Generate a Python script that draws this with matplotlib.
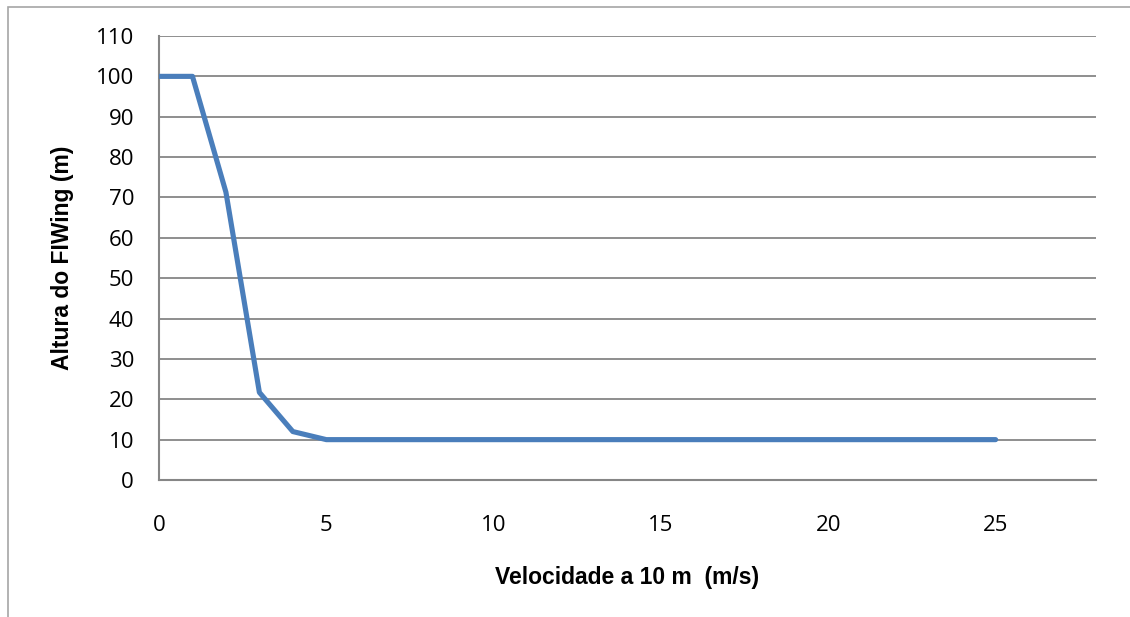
import matplotlib
matplotlib.use('Agg')
import matplotlib.pyplot as plt
from matplotlib.patches import Rectangle

# wind speed at 10 m (m/s) vs FlWing height (m)
velocidade = [0, 1, 2, 3, 4, 5, 6, 7, 8, 9, 10, 11, 12, 13, 14, 15, 16, 17, 18, 19, 20, 21, 22, 23, 24, 25]
altura = [100, 100, 71.3, 21.7, 12, 10, 10, 10, 10, 10, 10, 10, 10, 10, 10, 10, 10, 10, 10, 10, 10, 10, 10, 10, 10, 10]

x_ticks = [0, 5, 10, 15, 20, 25]
y_ticks = [0, 10, 20, 30, 40, 50, 60, 70, 80, 90, 100, 110]

tick_font = ['Open Sans', 'DejaVu Sans']
label_font = ['Liberation Sans Narrow', 'Liberation Sans', 'DejaVu Sans']

fig = plt.figure(figsize=(11.3, 6.17), dpi=100)
ax = fig.add_axes([159/1130, 1-480/617, (1096-159)/1130, (480-36)/617])

# outer chart frame (top and left edges visible)
fig.patches.append(Rectangle((8/1130, -0.1), 1.2, 1-7/617+0.1, transform=fig.transFigure,
                             fill=False, edgecolor='#a6a6a6', linewidth=1.2))

ax.plot(velocidade, altura, color='#4a7ebb', linewidth=3.7, solid_capstyle='round', zorder=3)

ax.set_xlim(0, 28)
ax.set_ylim(0, 110)
ax.set_xticks(x_ticks)
ax.set_yticks(y_ticks)
ax.grid(axis='y', color='#868686', linewidth=1.3)
ax.set_axisbelow(True)
for s in ['top', 'right']:
    ax.spines[s].set_visible(False)
for s in ['left', 'bottom']:
    ax.spines[s].set_color('#868686')
    ax.spines[s].set_linewidth(1.5)

ax.tick_params(axis='both', length=0, labelsize=16, colors='black')
ax.tick_params(axis='x', pad=25)
ax.tick_params(axis='y', pad=18)
for lab in ax.get_xticklabels() + ax.get_yticklabels():
    lab.set_family(tick_font)

ax.set_xlabel('Velocidade a 10 m  (m/s)', fontsize=16.5, fontweight='bold', family=label_font, labelpad=22)
ax.set_ylabel('Altura do FIWing (m)', fontsize=16.5, fontweight='bold', family=label_font, labelpad=16)

fig.savefig('out.png', dpi=100)
